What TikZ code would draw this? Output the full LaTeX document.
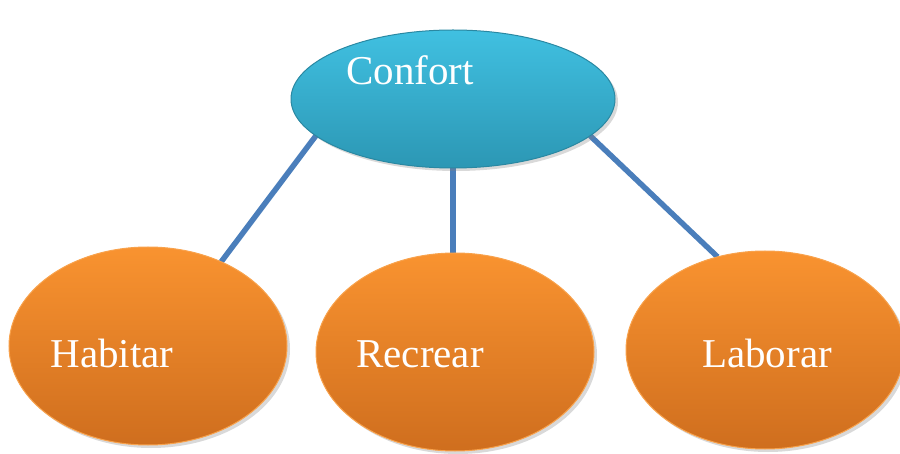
\documentclass[tikz,border=0pt]{standalone}
\usepackage{fontspec}
\setmainfont{Liberation Serif}
\usetikzlibrary{shapes,positioning,shadows,calc}
\pgfdeclarelayer{background}
\pgfsetlayers{background,main}
\definecolor{cyantop}{HTML}{40C0E1}
\definecolor{cyanbot}{HTML}{2C97B4}
\definecolor{cyanedge}{HTML}{2A88A2}
\definecolor{orangetop}{HTML}{F99330}
\definecolor{orangebot}{HTML}{CF6E1E}
\definecolor{orangeedge}{HTML}{F8A24C}
\definecolor{linkblue}{HTML}{4A7EBB}
\tikzset{
  bubble/.style={ellipse,inner sep=0pt,outer sep=0pt,line width=1pt,
    drop shadow={opacity=0.3,shadow xshift=3pt,shadow yshift=-3pt}},
  topbubble/.style={bubble,top color=cyantop,bottom color=cyanbot,draw=cyanedge,
    minimum width=324pt,minimum height=138pt},
  leafbubble/.style={bubble,top color=orangetop,bottom color=orangebot,draw=orangeedge,
    minimum width=278pt,minimum height=198pt},
  lbl/.style={text=white,anchor=base,inner sep=0pt,font=\fontsize{41}{48}\selectfont},
  link/.style={draw=linkblue,line width=5.5pt}
}
\begin{document}
\begin{tikzpicture}[x=1pt,y=-1pt]
    \useasboundingbox (0,0) rectangle (900,454);
    \node [topbubble] (conf) at (453,99) {};
    \node [leafbubble] (hab) at (148,346) {};
    \node [leafbubble] (rec) at (455,352) {};
    \node [leafbubble] (lab) at (765,350) {};
    \node [lbl] (confl) at ([shift={(-43,-14)}]conf.center) {Confort};
    \node [lbl] (habl) at ([shift={(-36,21)}]hab.center) {Habitar};
    \node [lbl] (recl) at ([shift={(-35,15)}]rec.center) {Recrear};
    \node [lbl] (labl) at ([shift={(2,17)}]lab.center) {Laborar};
    \begin{pgfonlayer}{background}
      \draw [link] (conf.195) -- (hab.49);
      \draw [link] (conf.south) -- (conf.south |- rec.north);
      \draw [link] (conf.345) -- (lab.117);
    \end{pgfonlayer}
\end{tikzpicture}
\end{document}
